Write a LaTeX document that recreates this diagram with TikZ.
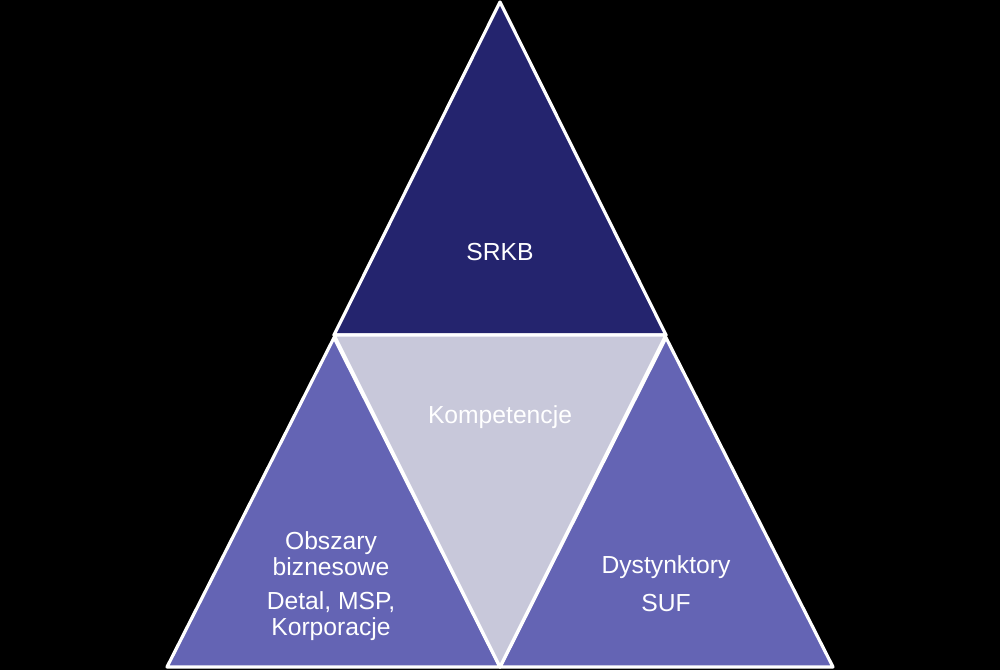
\documentclass[tikz,border=0pt]{standalone}
\usepackage{fontspec}
\setmainfont{Liberation Sans}

\definecolor{navyfill}{RGB}{36,36,110}
\definecolor{lightfill}{RGB}{200,200,218}
\definecolor{purplefill}{RGB}{100,100,180}

\begin{document}
\begin{tikzpicture}[
  x=0.75pt, y=-0.75pt,
  tri/.style   = {draw=white, line width=2.4pt, line join=round},
  toptri/.style= {tri, fill=navyfill},
  midtri/.style= {tri, fill=lightfill},
  sidetri/.style={tri, fill=purplefill},
  lbl/.style   = {text=white, font=\fontsize{18.5}{19.5}\selectfont,
                  align=center, inner sep=0pt},
]

\fill[black] (0,0) rectangle (1000,670);
\useasboundingbox (0,0) rectangle (1000,670);

% corners of the big triangle and its midpoints
\coordinate (apex)  at (500,2);
\coordinate (bl)    at (167,667);
\coordinate (br)    at (833,667);
\coordinate (ml)    at (334,335);
\coordinate (mr)    at (666,335);
\coordinate (mb)    at (500,667);

% the four parts
\draw[toptri]  (apex) -- (mr) -- (ml) -- cycle;
\draw[sidetri] ([yshift=-2pt]ml) -- (mb) -- (bl) -- cycle;
\draw[sidetri] ([yshift=-2pt]mr) -- (br) -- (mb) -- cycle;
\draw[midtri]  (ml) -- (mr) -- (mb) -- cycle;

% labels
\node[lbl] (srkb) at (500,252) {SRKB};
\node[lbl] (komp) at (500,417) {Kompetencje};
\node[lbl] (obsz) at (331,554) {Obszary\\biznesowe};
\node[lbl] (detal) at (331,616) {Detal, MSP,\\Korporacje};
\node[lbl] (dyst) at (666,567) {Dystynktory};
\node[lbl] (suf)  at (666,603) {SUF};

\end{tikzpicture}
\end{document}
